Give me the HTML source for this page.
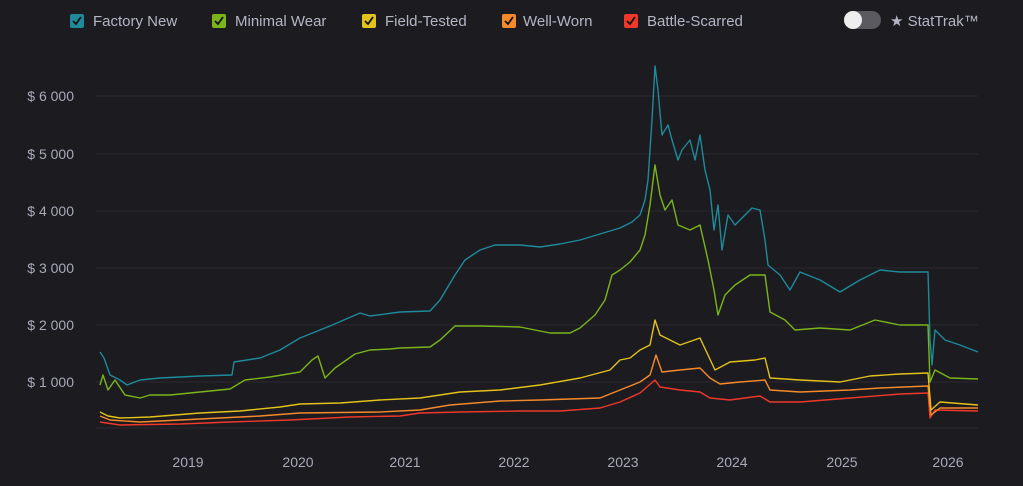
<!DOCTYPE html>
<html><head><meta charset="utf-8"><style>
body{margin:0;background:#1c1b20;width:1023px;height:481px;overflow:hidden;font-family:"Liberation Sans",sans-serif}
</style></head><body>
<svg width="1023" height="481" xmlns="http://www.w3.org/2000/svg" font-family="Liberation Sans, sans-serif">
<rect width="1023" height="481" fill="#1c1b20"/>
<g stroke="#2b2a31" stroke-width="1">
<line x1="96" x2="978" y1="96" y2="96"/><line x1="96" x2="978" y1="154" y2="154"/>
<line x1="96" x2="978" y1="211" y2="211"/><line x1="96" x2="978" y1="268" y2="268"/>
<line x1="96" x2="978" y1="325" y2="325"/><line x1="96" x2="978" y1="382" y2="382"/>
<line x1="96" x2="978" y1="428" y2="428"/>
</g>
<g fill="#a9aab8" font-size="14" text-anchor="end">
<text x="74" y="101">$ 6 000</text><text x="74" y="159">$ 5 000</text><text x="74" y="216">$ 4 000</text>
<text x="74" y="273">$ 3 000</text><text x="74" y="330">$ 2 000</text><text x="74" y="387">$ 1 000</text>
</g>
<g fill="#a9aab8" font-size="14" text-anchor="middle">
<text x="188" y="467">2019</text><text x="298" y="467">2020</text><text x="405" y="467">2021</text><text x="514" y="467">2022</text>
<text x="623" y="467">2023</text><text x="732" y="467">2024</text><text x="842" y="467">2025</text><text x="948" y="467">2026</text>
</g>
<g fill="none" stroke-width="1.4" stroke-linejoin="round">
<polyline stroke="#f0382a" points="100,422 120,425 180,424 230,422 290,420 350,417 400,416 420,413 460,412 520,411 560,411 600,408 620,402 640,393 655,380 660,387 680,390 700,392 710,398 730,400 760,396 770,402 800,402 850,398 900,394 928,393 930,418 935,410 978,411"/>
<polyline stroke="#f58a2a" points="100,416 110,420 140,422 200,419 260,416 300,413 380,412 420,410 450,405 500,401 540,400 600,398 620,390 640,382 650,375 656,355 662,372 680,370 700,368 710,378 720,384 740,382 765,380 770,390 800,392 850,390 880,388 928,386 931,415 940,408 978,408"/>
<polyline stroke="#e3c21a" points="100,412 108,416 120,418 150,417 200,413 240,411 280,407 300,404 340,403 380,400 420,398 460,392 500,390 540,385 580,378 610,370 620,360 630,358 640,350 650,345 655,320 660,335 670,340 680,345 700,338 708,355 715,370 730,362 755,360 765,358 770,378 800,380 840,382 870,376 900,374 928,373 931,410 940,402 978,405"/>
<polyline stroke="#7bb51a" points="100,385 103,375 108,390 115,380 125,395 140,398 150,395 170,395 190,393 230,389 245,380 270,377 300,372 312,360 318,356 325,378 335,368 355,354 370,350 390,349 400,348 430,347 440,340 455,326 480,326 520,327 550,333 570,333 580,328 595,315 605,300 612,275 620,270 630,262 640,250 645,235 650,205 655,165 660,195 665,210 672,200 678,225 690,230 700,225 708,260 714,290 718,315 725,295 735,285 750,275 765,275 770,312 785,320 795,330 820,328 850,330 875,320 900,325 928,325 930,382 935,370 950,378 978,379"/>
<polyline stroke="#1e8a9a" points="100,352 104,358 110,375 120,380 127,385 140,380 160,378 200,376 232,375 234,362 260,358 280,350 300,338 330,326 360,313 370,316 400,312 430,311 440,300 455,275 465,260 480,250 495,245 520,245 540,247 560,244 580,240 600,234 620,228 632,222 640,215 645,200 648,180 652,120 655,66 658,90 662,135 668,125 672,140 678,160 682,150 690,140 695,160 700,135 705,170 710,190 714,230 718,205 722,250 728,215 735,225 745,215 752,208 760,210 765,240 768,265 780,275 790,290 800,272 820,280 840,292 860,280 880,270 900,272 928,272 930,340 932,365 935,330 945,340 960,345 978,352"/>
</g>
<g font-size="15" fill="#b4b6c4">
<rect x="70" y="14" width="14" height="14" rx="2" fill="#1e8a9a"/><text x="93" y="26">Factory New</text>
<rect x="212" y="14" width="14" height="14" rx="2" fill="#7bb51a"/><text x="235" y="26">Minimal Wear</text>
<rect x="362" y="14" width="14" height="14" rx="2" fill="#e3c21a"/><text x="385" y="26">Field-Tested</text>
<rect x="502" y="14" width="14" height="14" rx="2" fill="#f58a2a"/><text x="523" y="26">Well-Worn</text>
<rect x="624" y="14" width="14" height="14" rx="2" fill="#f0382a"/><text x="647" y="26">Battle-Scarred</text>
<text x="890" y="26">★ StatTrak™</text>
</g>
<g stroke="#111" stroke-width="1.8" fill="none">
<polyline points="73,21 76,24 81,17"/><polyline points="215,21 218,24 223,17"/><polyline points="365,21 368,24 373,17"/><polyline points="505,21 508,24 513,17"/><polyline points="627,21 630,24 635,17"/>
</g>
<rect x="844" y="11" width="37" height="18" rx="9" fill="#5a5a60"/>
<circle cx="853" cy="20" r="9" fill="#eeeeee"/>
</svg>
</body></html>
